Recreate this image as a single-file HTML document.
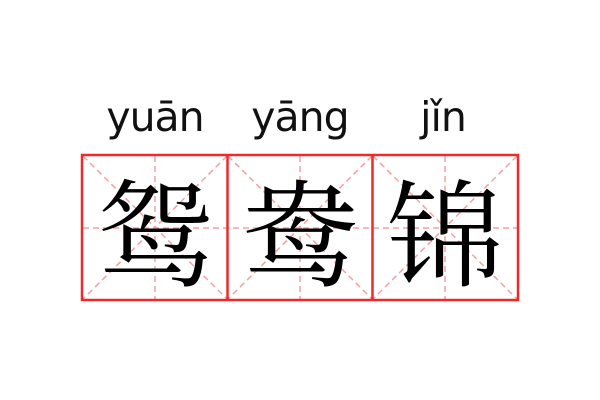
<!DOCTYPE html>
<html><head><meta charset="utf-8"><style>
body{margin:0;width:600px;height:400px;background:#fff;overflow:hidden;position:relative}
.py{position:absolute;top:93px;font:41px "DejaVu Sans","Liberation Sans",sans-serif;color:#111;width:146px;text-align:center;letter-spacing:-1px}
.ch{position:absolute;top:157px;width:146px;height:142px;text-align:center;font:116px/142px "Noto Serif CJK SC","WenQuanYi Zen Hei",serif;color:#000}
</style></head><body>
<div class="py" style="left:82px">yuān</div>
<div class="py" style="left:227px">yāng</div>
<div class="py" style="left:370px">jǐn</div>
<svg width="600" height="400" style="position:absolute;left:0;top:0">
<g stroke="#f4a0a0" stroke-width="1.5" stroke-dasharray="6,4" fill="none">
<line x1="83" y1="228" x2="517" y2="228"/>
<line x1="155" y1="156" x2="155" y2="299"/>
<line x1="300" y1="156" x2="300" y2="299"/>
<line x1="445" y1="156" x2="445" y2="299"/>
<line x1="83" y1="156" x2="227" y2="299"/><line x1="227" y1="156" x2="83" y2="299"/>
<line x1="228" y1="156" x2="372" y2="299"/><line x1="372" y1="156" x2="228" y2="299"/>
<line x1="373" y1="156" x2="517" y2="299"/><line x1="517" y1="156" x2="373" y2="299"/>
</g>
<g stroke="#ee2a2a" stroke-width="2.5" fill="none">
<rect x="82" y="155" width="436" height="145"/>
<line x1="227.5" y1="155" x2="227.5" y2="300"/>
<line x1="372.5" y1="155" x2="372.5" y2="300"/>
</g>
</svg>
<div class="ch" style="left:82px">鸳</div>
<div class="ch" style="left:227px">鸯</div>
<div class="ch" style="left:372px">锦</div>
</body></html>
